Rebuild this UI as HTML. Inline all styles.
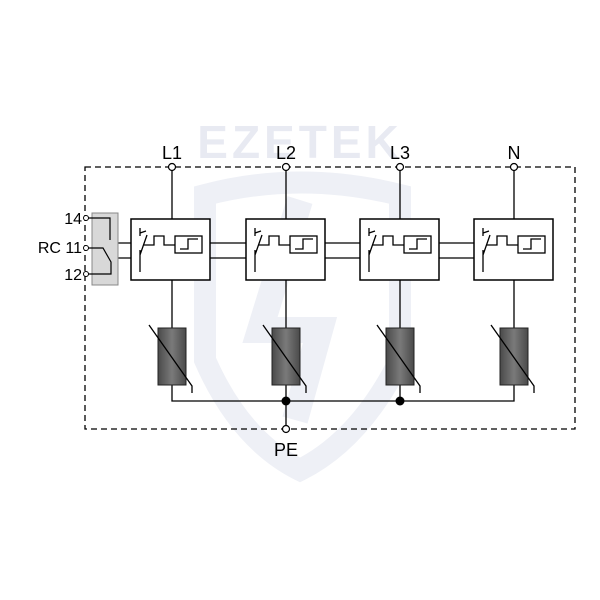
<!DOCTYPE html>
<html><head><style>body{margin:0;background:#fff}svg{display:block}</style></head><body>
<svg width="600" height="600" viewBox="0 0 600 600" xmlns="http://www.w3.org/2000/svg">
<defs>
<linearGradient id="g" x1="0" x2="1"><stop offset="0" stop-color="#4a4a4a"/><stop offset="0.5" stop-color="#7a7a7a"/><stop offset="1" stop-color="#4a4a4a"/></linearGradient>
<g id="blk">
<rect x="0" y="0" width="79" height="61" fill="#fff" stroke="#000" stroke-width="1.5"/>
<path d="M9 9V17 M9 14L15 12 M16 16L9 36 M9 31V53" stroke="#000" stroke-width="1.3" fill="none"/>
<path d="M13 26H23V17H33V26H44" stroke="#000" stroke-width="1.3" fill="none"/>
<rect x="44" y="17" width="27" height="17" fill="none" stroke="#000" stroke-width="1.3"/>
<path d="M49 30H57V20H67" stroke="#000" stroke-width="1.3" fill="none"/>
</g>
<g id="var">
<rect x="-14" y="0" width="28" height="57" fill="url(#g)" stroke="#222" stroke-width="1"/>
<path d="M-23 -3L20 58V65" stroke="#000" stroke-width="1.3" fill="none"/>
</g>
</defs>
<text x="300" y="158" text-anchor="middle" font-family="Liberation Sans" font-weight="bold" font-size="46" fill="#e8eaf2" letter-spacing="4">EZETEK</text>
<path d="M205 195Q300 170 400 195L400 360Q360 440 300 470Q240 440 205 360Z" fill="none" stroke="#eef0f6" stroke-width="22"/>
<path d="M300 200L260 330H320L295 420" fill="none" stroke="#eef0f6" stroke-width="26"/>
<rect x="85" y="167" width="490" height="262" fill="none" stroke="#000" stroke-width="1.3" stroke-dasharray="6,4"/>
<g stroke="#000" stroke-width="1.3">
<line x1="118" y1="243" x2="474" y2="243"/><line x1="118" y1="258" x2="474" y2="258"/>
<line x1="172" y1="167" x2="172" y2="328"/><line x1="286" y1="167" x2="286" y2="328"/><line x1="400" y1="167" x2="400" y2="328"/><line x1="514" y1="167" x2="514" y2="328"/>
<path d="M172 385V401H514V385 M286 385V429 M400 385V401" fill="none"/>
</g>
<use href="#blk" x="131" y="219"/><use href="#blk" x="246" y="219"/><use href="#blk" x="360" y="219"/><use href="#blk" x="474" y="219"/>
<use href="#var" x="172" y="328"/><use href="#var" x="286" y="328"/><use href="#var" x="400" y="328"/><use href="#var" x="514" y="328"/>
<circle cx="286" cy="401" r="4.5" fill="#000"/><circle cx="400" cy="401" r="4.5" fill="#000"/>
<g fill="#fff" stroke="#000" stroke-width="1.2">
<circle cx="172" cy="167" r="3.5"/><circle cx="286" cy="167" r="3.5"/><circle cx="400" cy="167" r="3.5"/><circle cx="514" cy="167" r="3.5"/><circle cx="286" cy="429" r="3.5"/>
</g>
<rect x="92" y="213" width="26" height="72" fill="#d8d8d8" stroke="#888" stroke-width="1"/>
<path d="M88 218H110V240 M88 248H103L111 262V274H88" fill="none" stroke="#000" stroke-width="1.2"/>
<g fill="#fff" stroke="#000" stroke-width="1"><circle cx="86" cy="218" r="2.5"/><circle cx="86" cy="248" r="2.5"/><circle cx="86" cy="274" r="2.5"/></g>
<g font-family="Liberation Sans" font-size="18" fill="#000" text-anchor="middle">
<text x="172" y="159">L1</text><text x="286" y="159">L2</text><text x="400" y="159">L3</text><text x="514" y="159">N</text><text x="286" y="456">PE</text>
</g>
<g font-family="Liberation Sans" font-size="16" fill="#000" text-anchor="end">
<text x="82" y="224">14</text><text x="82" y="253">RC 11</text><text x="82" y="280">12</text>
</g>
</svg>
</body></html>
